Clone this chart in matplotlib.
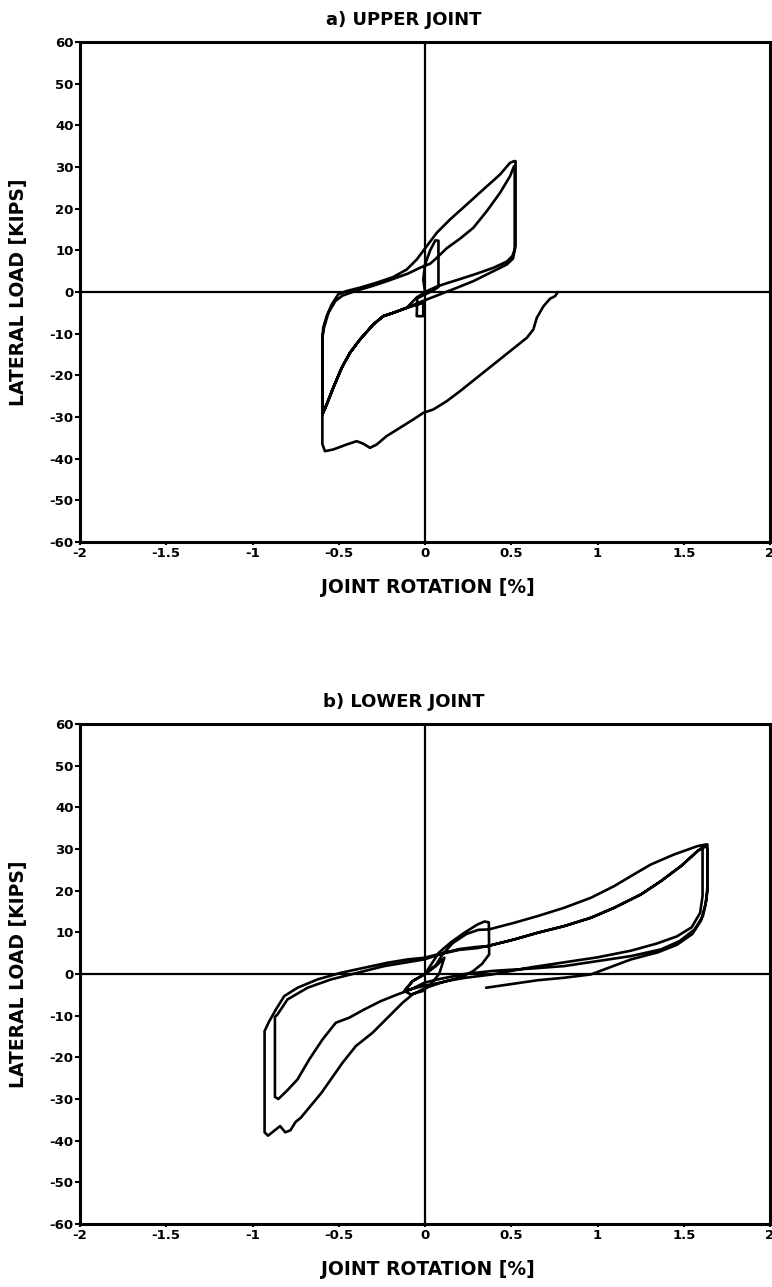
import numpy as np
import matplotlib
matplotlib.use("Agg")
import matplotlib.pyplot as plt

plt.rcParams["font.family"] = ["DejaVu Sans"]
plt.rcParams["font.weight"] = "bold"
plt.rcParams["axes.unicode_minus"] = False

# ---------------- a) upper joint : rotation [%], load [kips] ----------------
up_small_rot = [0.0, -0.01, 0.0, 0.03, 0.06, 0.078, 0.078, 0.078, 0.04, -0.02, -0.045, -0.048, -0.01, -0.01]
up_small_kip = [0.0, 3.0, 6.6, 10.0, 12.4, 12.3, 8.0, 1.2, 0.2, -1.0, -1.5, -5.8, -5.8, -2.6]

up_diag_rot = [-0.106, -0.184, -0.242, -0.30, -0.377, -0.435, -0.483, -0.532, -0.57, -0.595]
up_diag_kip = [-3.8, -5.0, -5.8, -7.8, -11.4, -14.6, -18.2, -23.0, -27.0, -29.4]

up_rel1_rot = [-0.595, -0.585, -0.56, -0.52, -0.48, -0.40, -0.30, -0.20, -0.10, -0.03, 0.03]
up_rel1_kip = [-11.0, -8.5, -5.0, -2.2, -0.9, 0.3, 1.5, 2.9, 4.4, 5.8, 6.8]

up_load1_rot = [0.058, 0.126, 0.203, 0.28, 0.358, 0.435, 0.493, 0.516]
up_load1_kip = [7.8, 10.5, 12.8, 15.4, 19.4, 23.8, 27.8, 30.2]

up_unl1_rot = [0.52, 0.52, 0.506, 0.474, 0.396, 0.30, 0.203, 0.126, 0.068, 0.01, -0.048]
up_unl1_kip = [30.2, 10.2, 8.6, 7.3, 5.8, 4.4, 3.1, 2.1, 1.3, 0.2, -1.3]

up_rel2_rot = [-0.595, -0.59, -0.57, -0.541, -0.503]
up_rel2_kip = [-11.0, -8.6, -5.8, -3.0, -0.55]

up_load2_rot = [-0.454, -0.377, -0.28, -0.184, -0.106, -0.048, 0.01, 0.068, 0.145, 0.242, 0.338, 0.435, 0.493, 0.516]
up_load2_kip = [0.24, 1.04, 2.24, 3.6, 5.4, 7.8, 11.0, 14.2, 17.4, 21.0, 24.6, 28.2, 31.0, 31.4]

up_unl2_rot = [0.525, 0.525, 0.51, 0.474, 0.377, 0.28, 0.184, 0.087, 0.01, -0.05]
up_unl2_kip = [31.4, 11.0, 8.0, 6.6, 4.6, 2.6, 1.0, -0.56, -1.8, -2.8]

up_final_rot = [-0.595, -0.58, -0.532, -0.454, -0.396, -0.358, -0.319, -0.28, -0.223, -0.145, -0.068,
                -0.01, 0.048, 0.126, 0.203, 0.30, 0.396, 0.493, 0.59, 0.628, 0.648, 0.687, 0.725, 0.754, 0.77]
up_final_kip = [-36.5, -38.2, -37.8, -36.6, -35.8, -36.4, -37.4, -36.6, -34.6, -32.6, -30.6,
                -29.0, -28.2, -26.2, -23.8, -20.6, -17.4, -14.2, -11.0, -9.0, -6.2, -3.4, -1.6, -1.0, 0.0]

# ---------------- b) lower joint ----------------
lo_lens_rot = [0.0, 0.064, 0.112, 0.083, 0.034, -0.014, -0.082, -0.12]
lo_lens_kip = [0.0, 1.9, 3.9, 0.1, -2.5, -4.1, -4.9, -4.1]

lo_small_rot = [-0.072, 0.0, 0.08, 0.15, 0.228, 0.305, 0.345, 0.37, 0.372, 0.33, 0.279, 0.22, 0.12, 0.0, -0.08, -0.12]
lo_small_kip = [-1.7, 0.0, 5.1, 7.6, 9.9, 11.9, 12.6, 12.4, 4.7, 2.4, 0.7, -0.6, -1.8, -2.8, -3.6, -4.1]

lo_rel0_rot = [-0.072, 0.0, 0.064, 0.10, 0.16, 0.24, 0.31]
lo_rel0_kip = [-1.7, 0.0, 2.2, 4.6, 7.4, 9.6, 10.6]

lo_top_rot = [0.37, 0.518, 0.653, 0.807, 0.962, 1.097, 1.194, 1.31, 1.445, 1.58, 1.63]
lo_top_kip = [10.7, 12.3, 13.9, 15.9, 18.3, 21.1, 23.5, 26.3, 28.7, 30.7, 31.1]

lo_unl1_rot = [1.637, 1.637, 1.632, 1.611, 1.563, 1.476, 1.368, 1.194, 1.0, 0.807, 0.614, 0.45]
lo_unl1_kip = [31.1, 21.1, 17.9, 13.9, 10.7, 7.9, 5.9, 4.3, 3.1, 1.9, 1.3, 0.9]

lo_diag1_rot = [0.383, 0.228, 0.073, -0.004, -0.081, -0.159, -0.256, -0.352, -0.44, -0.517, -0.594, -0.671, -0.739, -0.80, -0.85, -0.87]
lo_diag1_kip = [0.7, 0.0, -1.3, -2.1, -3.7, -4.9, -6.5, -8.5, -10.5, -11.7, -15.7, -20.5, -25.3, -28.0, -30.0, -29.5]

lo_rel1_rot = [-0.87, -0.855, -0.797, -0.681, -0.545, -0.391, -0.236, -0.12, -0.004, 0.10, 0.20, 0.30]
lo_rel1_kip = [-10.3, -9.7, -6.1, -3.3, -1.3, 0.3, 1.9, 2.7, 3.5, 4.9, 5.8, 6.2]

lo_mid_rot = [0.363, 0.518, 0.653, 0.807, 0.962, 1.097, 1.252, 1.368, 1.484, 1.58, 1.62]
lo_mid_kip = [6.7, 8.3, 9.9, 11.5, 13.5, 15.9, 19.1, 22.3, 25.9, 29.5, 30.7]

lo_unl2_rot = [1.609, 1.609, 1.595, 1.546, 1.459, 1.343, 1.194, 1.0, 0.807, 0.614, 0.39]
lo_unl2_kip = [29.9, 18.7, 14.7, 11.2, 9.0, 7.3, 5.6, 4.0, 2.8, 1.6, -0.1]

lo_diag2_rot = [0.236, 0.121, 0.005, -0.072, -0.13, -0.207, -0.304, -0.401, -0.478, -0.546, -0.60,
                -0.66, -0.72, -0.75, -0.78, -0.81, -0.84, -0.87, -0.91, -0.93]
lo_diag2_kip = [-0.9, -1.7, -3.3, -4.9, -6.9, -10.1, -14.1, -17.3, -21.3, -25.3, -28.5,
                -31.5, -34.5, -35.5, -37.5, -38.0, -36.5, -37.5, -38.8, -38.0]

lo_rel2_rot = [-0.93, -0.905, -0.864, -0.816, -0.739, -0.623, -0.487, -0.352, -0.217, -0.10, -0.004, 0.073, 0.20, 0.30]
lo_rel2_kip = [-13.7, -11.5, -8.5, -5.3, -3.3, -1.3, 0.3, 1.5, 2.7, 3.5, 3.9, 4.7, 6.0, 6.5]

lo_final_rot = [1.625, 1.637, 1.637, 1.625, 1.60, 1.55, 1.46, 1.35, 1.194, 1.04, 0.962, 0.807, 0.653, 0.518, 0.42, 0.354]
lo_final_kip = [30.9, 30.0, 20.0, 16.5, 12.8, 9.6, 7.0, 5.2, 3.5, 1.1, -0.1, -0.9, -1.5, -2.3, -2.9, -3.3]

x_ticks = [-2, -1.5, -1, -0.5, 0, 0.5, 1, 1.5, 2]
x_labels = ["-2", "-1.5", "-1", "-0.5", "0", "0.5", "1", "1.5", "2"]
y_ticks = [60, 50, 40, 30, 20, 10, 0, -10, -20, -30, -40, -50, -60]


def path(*segs):
    xs = np.concatenate([np.asarray(s[0], float) for s in segs])
    ys = np.concatenate([np.asarray(s[1], float) for s in segs])
    return xs, ys


up_x, up_y = path(
    (up_small_rot, up_small_kip), (up_diag_rot, up_diag_kip), (up_rel1_rot, up_rel1_kip),
    (up_load1_rot, up_load1_kip), (up_unl1_rot, up_unl1_kip), (up_diag_rot, up_diag_kip),
    (up_rel2_rot, up_rel2_kip), (up_load2_rot, up_load2_kip), (up_unl2_rot, up_unl2_kip),
    (up_diag_rot, up_diag_kip), (up_final_rot, up_final_kip),
)

lo_x, lo_y = path(
    (lo_lens_rot, lo_lens_kip), (lo_small_rot, lo_small_kip), (lo_rel0_rot, lo_rel0_kip),
    (lo_top_rot, lo_top_kip), (lo_unl1_rot, lo_unl1_kip), (lo_diag1_rot, lo_diag1_kip),
    (lo_rel1_rot, lo_rel1_kip), (lo_mid_rot, lo_mid_kip), (lo_unl2_rot, lo_unl2_kip),
    (lo_diag2_rot, lo_diag2_kip), (lo_rel2_rot, lo_rel2_kip), (lo_mid_rot, lo_mid_kip),
    (lo_final_rot, lo_final_kip),
)

W, H = 772, 1287
fig = plt.figure(figsize=(W / 100, H / 100), dpi=100)
fig.patch.set_facecolor("white")


def panel(top_px, xs, ys, title, title_px):
    ax = fig.add_axes([80 / W, 1 - (top_px + 500) / H, 690 / W, 500 / H])
    ax.plot(xs, ys, color="black", lw=1.9, solid_joinstyle="round", solid_capstyle="round")
    ax.axhline(0, color="black", lw=1.6, zorder=1)
    ax.axvline(0, color="black", lw=1.6, zorder=1)
    ax.set_xlim(-2, 2)
    ax.set_ylim(-60, 60)
    ax.set_xticks(x_ticks)
    ax.set_xticklabels(x_labels)
    ax.set_yticks(y_ticks)
    ax.set_yticklabels([str(v) for v in y_ticks])
    for sp in ax.spines.values():
        sp.set_linewidth(2.2)
    ax.tick_params(axis="y", direction="out", length=3.6, width=1.5, pad=1, labelsize=9.5)
    ax.tick_params(axis="x", direction="out", length=2.5, width=1.5, pad=1, labelsize=9.5)
    ax.set_xlabel("JOINT ROTATION [%]", fontsize=13.5, fontweight="bold")
    ax.set_ylabel("LATERAL LOAD [KIPS]", fontsize=13.5, fontweight="bold")
    ax.xaxis.set_label_coords(0.504, -0.072)
    ax.yaxis.set_label_coords(-0.075, 0.5)
    fig.text(404 / W, 1 - title_px / H, title, ha="center", va="center",
             fontsize=13, fontweight="bold")
    return ax


panel(42, up_x, up_y, "a) UPPER JOINT", 20)
panel(724, lo_x, lo_y, "b) LOWER JOINT", 702)

fig.savefig("out.png", dpi=100, facecolor="white")
